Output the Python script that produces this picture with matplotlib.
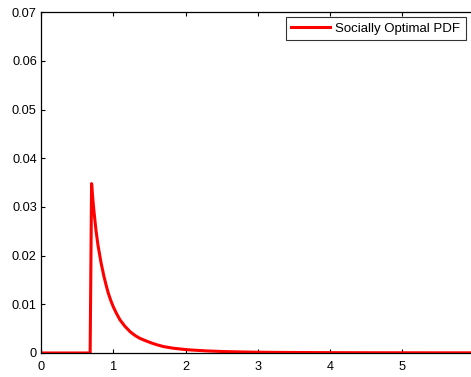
import matplotlib
matplotlib.use("Agg")
import matplotlib.pyplot as plt

plt.rcParams['font.family'] = ['Liberation Sans', 'DejaVu Sans']

# density values
x_vals = [0.0, 0.68, 0.70, 0.715, 0.733, 0.76, 0.788, 0.83, 0.87, 0.90,
          0.931, 0.965, 1.0, 1.045, 1.093, 1.16, 1.231, 1.30, 1.369, 1.45,
          1.52, 1.60, 1.70, 1.83, 1.95, 2.06, 2.30, 2.52, 2.75, 2.98, 3.4,
          4.0, 4.6, 5.2, 6.0]
pdf_vals = [0.0, 0.0, 0.0348, 0.0320, 0.0291, 0.0253, 0.0222, 0.0186,
            0.0158, 0.0140, 0.0123, 0.0108, 0.0095, 0.0081, 0.0068, 0.0055,
            0.0044, 0.0036, 0.0030, 0.0025, 0.0021, 0.0017, 0.0013,
            0.00098, 0.00078, 0.00063, 0.00042, 0.00030, 0.00022, 0.00016,
            0.00011, 0.00007, 0.00005, 0.00004, 0.00003]

x_ticks = [0, 1, 2, 3, 4, 5]
y_ticks = [0, 0.01, 0.02, 0.03, 0.04, 0.05, 0.06, 0.07]
y_labels = ['0', '0.01', '0.02', '0.03', '0.04', '0.05', '0.06', '0.07']

fig = plt.figure(figsize=(4.71, 3.77), dpi=100)
ax = fig.add_axes([0.087, 0.0637, 0.921, 0.9037])

ax.plot(x_vals, pdf_vals, color='red', linewidth=2.2,
        label='Socially Optimal PDF')

ax.set_xlim(0, 6)
ax.set_ylim(0, 0.07)
ax.set_xticks(x_ticks)
ax.set_yticks(y_ticks)
ax.set_yticklabels(y_labels)
ax.tick_params(direction='in', length=3, width=0.8, labelsize=9.2,
               top=True, right=True)
ax.tick_params(axis='x', pad=6)
ax.tick_params(axis='y', pad=3)
for s in ax.spines.values():
    s.set_linewidth(0.9)

leg = ax.legend(loc='upper right', bbox_to_anchor=(0.9887, 0.954),
                bbox_transform=fig.transFigure, fontsize=9.5, frameon=True,
                fancybox=False, handlelength=2.95, borderpad=0.4,
                handletextpad=0.38, borderaxespad=0)
leg.get_frame().set_edgecolor('black')
leg.get_frame().set_linewidth(0.8)

fig.savefig('out.png', dpi=100)
